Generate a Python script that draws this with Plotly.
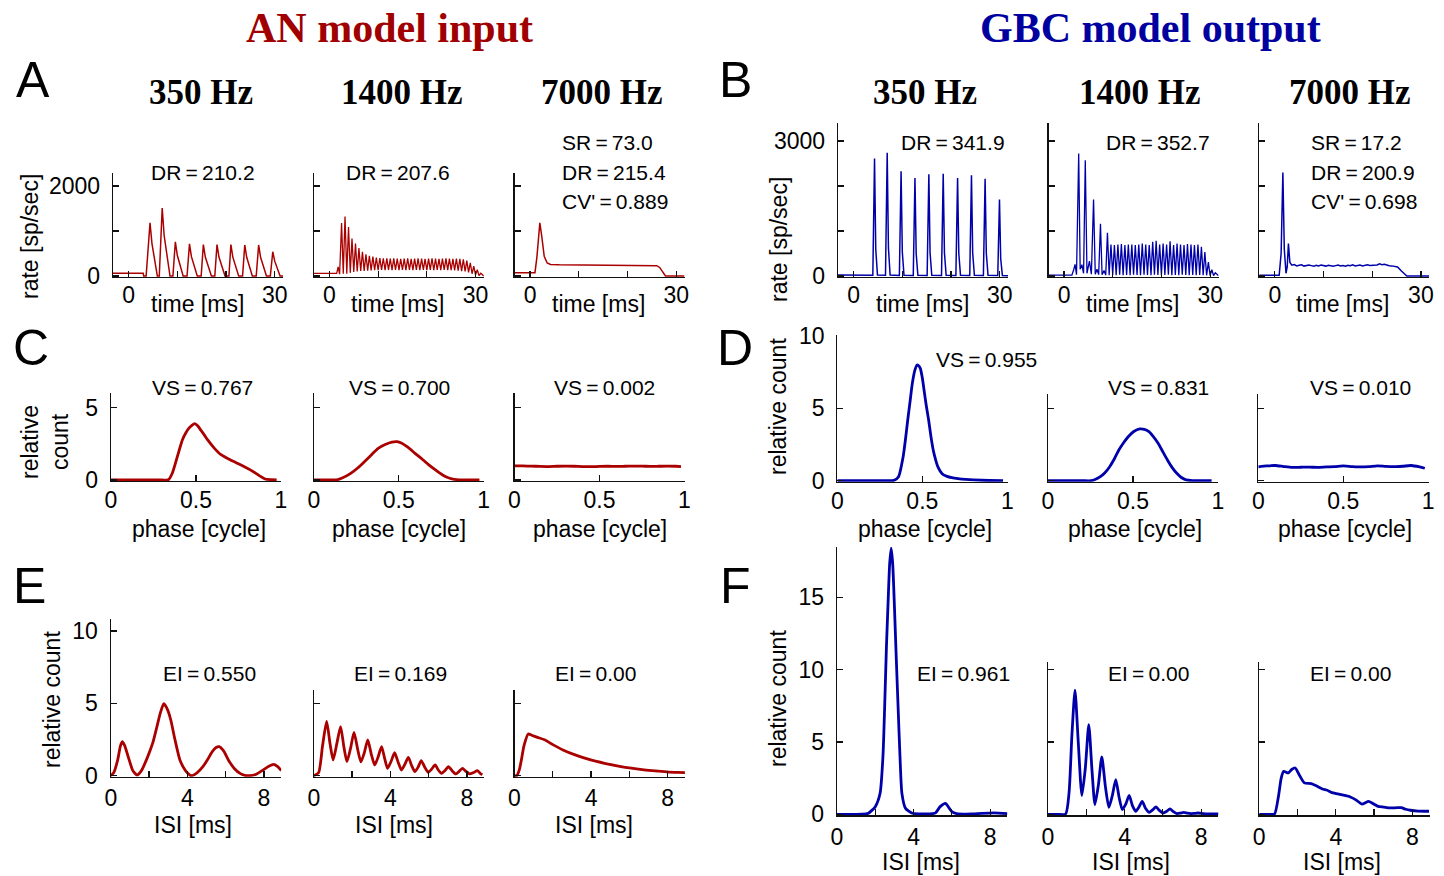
import plotly.graph_objects as go

W, H = 1444, 876
RED = "#aa0000"
BLUE = "#0000aa"
SANS = "Liberation Sans, Arial, Helvetica, sans-serif"
SERIF = "Liberation Serif, Times New Roman, serif"

# ---------------- data ----------------
# A: AN PSTH (time ms, rate sp/s)
A1_t = [-3.2, 3.0, 3.1, 3.6, 4.4, 4.8, 5.9, 6.3, 6.9, 7.3, 8.5, 9.1, 9.6, 10.0, 11.2, 12.0, 12.5, 12.9,
        14.1, 14.9, 15.35, 15.75, 17.0, 17.7, 18.15, 18.55, 19.8, 20.6, 21.0, 21.4, 22.6, 23.4, 23.85,
        24.25, 25.4, 26.2, 26.7, 27.1, 28.3, 29.1, 29.6, 30.0, 31.1, 31.7]
A1_v = [60, 60, 0, 0, 1180, 720, 0, 0, 1510, 900, 0, 0, 760, 460, 0, 0, 715, 430, 0, 0, 700, 420, 0, 0,
        700, 420, 0, 0, 700, 420, 0, 0, 690, 415, 0, 0, 690, 415, 0, 0, 540, 330, 0, 0]

A2_pre_t = [-3.2, 1.5, 1.8, 2.1]
A2_pre_v = [60, 60, 200, 40]
A2_peak_t = [2.5, 3.21, 3.93, 4.64, 5.36, 6.07, 6.79, 7.5, 8.21, 8.93, 9.64, 10.36, 11.07, 11.79, 12.5,
             13.21, 13.93, 14.64, 15.36, 16.07, 16.79, 17.5, 18.21, 18.93, 19.64, 20.36, 21.07, 21.79,
             22.5, 23.21, 23.93, 24.64, 25.36, 26.07, 26.79, 27.5, 28.21, 28.93, 29.64, 30.36, 31.07]
A2_peak_v = [1180, 1320, 1090, 830, 720, 620, 540, 480, 450, 430, 410, 400, 395, 390, 385, 390, 385, 380,
             385, 390, 380, 385, 390, 385, 380, 385, 390, 385, 380, 385, 390, 385, 380, 385, 380, 370,
             340, 290, 220, 140, 60]
A2_trough_t = [2.85, 3.57, 4.29, 5.0, 5.71, 6.43, 7.14, 7.86, 8.57, 9.29, 10.0, 10.71, 11.43, 12.14,
               12.86, 13.57, 14.29, 15.0, 15.71, 16.43, 17.14, 17.86, 18.57, 19.29, 20.0, 20.71, 21.43,
               22.14, 22.86, 23.57, 24.29, 25.0, 25.71, 26.43, 27.14, 27.86, 28.57, 29.29, 30.0, 30.71, 31.7]
A2_trough_v = [50, 50, 70, 90, 100, 110, 115, 120, 125, 130, 130, 135, 130, 135, 130, 135, 130, 135, 130,
               135, 130, 135, 130, 135, 130, 135, 130, 135, 130, 135, 130, 130, 125, 120, 110, 100, 80,
               50, 25, 10, 0]

A3_t = [-3.2, 1.0, 1.4, 2.0, 2.4, 2.9, 3.5, 4.2, 6.0, 8.0, 10.0, 12.0, 14.0, 16.0, 18.0, 20.0, 22.0,
        24.0, 26.0, 26.6, 27.2, 27.8, 31.7]
A3_v = [73, 73, 420, 1180, 880, 440, 290, 255, 248, 245, 242, 240, 240, 238, 236, 236, 234, 232, 230,
        190, 80, 0, 0]

# B: GBC PSTH
B1_t = [-3.2, 3.95, 4.3, 4.55, 4.9, 6.55, 6.9, 7.15, 7.5, 9.4, 9.75, 10.0, 10.35, 12.25, 12.6, 12.85,
        13.2, 15.1, 15.45, 15.7, 16.05, 18.05, 18.4, 18.65, 19.0, 21.0, 21.35, 21.6, 21.95, 23.85, 24.2,
        24.45, 24.8, 26.65, 27.0, 27.25, 27.6, 29.6, 29.95, 30.2, 30.55, 31.7]
B1_v = [20, 15, 2610, 600, 20, 15, 2740, 630, 20, 10, 2330, 540, 15, 10, 2180, 500, 15, 10, 2260, 520, 15,
        10, 2270, 520, 15, 10, 2180, 500, 15, 10, 2240, 510, 15, 10, 2160, 500, 15, 10, 1700, 390, 10, 5]

B2_pre_t = [-3.2, 1.6, 2.0, 2.25, 2.55, 3.0, 3.3, 3.65, 4.0, 4.35, 4.7, 5.2, 5.6, 6.05, 6.4, 6.75, 7.1,
            7.47, 7.8, 8.2, 8.55, 8.9, 9.25]
B2_pre_v = [20, 20, 150, 260, 30, 2720, 150, 250, 60, 2570, 60, 330, 40, 1700, 40, 150, 30, 1160, 30,
            120, 20, 960, 20]
B2_peak_t = [9.62, 10.33, 11.05, 11.76, 12.48, 13.19, 13.9, 14.62, 15.33, 16.05, 16.76, 17.48, 18.19,
             18.9, 19.62, 20.33, 21.05, 21.76, 22.48, 23.19, 23.9, 24.62, 25.33, 26.05, 26.76, 27.48,
             28.19, 28.9, 29.62, 30.33, 31.05]
B2_peak_v = [700, 690, 700, 710, 690, 700, 700, 690, 700, 720, 700, 690, 760, 780, 700, 720, 700, 770,
             690, 720, 700, 690, 710, 700, 690, 700, 650, 530, 310, 140, 70]
B2_trough_t = [9.98, 10.69, 11.41, 12.12, 12.84, 13.55, 14.26, 14.98, 15.69, 16.41, 17.12, 17.84, 18.55,
               19.26, 19.98, 20.69, 21.41, 22.12, 22.84, 23.55, 24.26, 24.98, 25.69, 26.41, 27.12, 27.84,
               28.55, 29.26, 29.98, 30.69, 31.7]
B2_trough_v = [25, 20, 30, 20, 25, 20, 30, 25, 20, 30, 25, 20, 30, 25, 20, 25, 30, 20, 25, 20, 30, 25,
               20, 25, 20, 25, 20, 15, 10, 10, 5]

B3_t = [-3.2, 0.9, 1.3, 1.66, 1.95, 2.3, 2.55, 2.8, 3.1, 3.5, 4.0, 4.5, 5.0, 5.5, 6.0, 6.5, 7.0, 7.5, 8.0,
        8.5, 9.0, 9.5, 10.0, 10.5, 11.0, 11.5, 12.0, 12.5, 13.0, 13.5, 14.0, 14.5, 15.0, 15.5, 16.0, 16.5,
        17.0, 17.5, 18.0, 18.5, 19.0, 19.5, 20.0, 20.5, 21.0, 21.5, 22.0, 22.5, 23.0, 23.5, 24.0, 24.5,
        25.2, 26.0, 26.6, 27.1, 31.7]
B3_v = [17, 17, 500, 2300, 600, 60, 200, 720, 300, 240, 255, 225, 240, 250, 220, 235, 245, 230, 215, 240,
        225, 245, 230, 220, 240, 235, 215, 230, 245, 225, 235, 220, 240, 230, 250, 225, 235, 245, 225, 230,
        250, 235, 240, 255, 245, 270, 250, 260, 240, 230, 225, 215, 200, 110, 40, 0, 0]

# C: AN period histograms (phase, relative count)
C1_x = [0, 0.1, 0.2, 0.3, 0.338, 0.36, 0.379, 0.40, 0.42, 0.44, 0.46, 0.478, 0.493, 0.51, 0.528, 0.55,
        0.569, 0.609, 0.65, 0.704, 0.75, 0.785, 0.82, 0.853, 0.88, 0.907, 0.94, 0.975]
C1_y = [0.0, 0.0, 0.0, 0.0, 0.02, 0.45, 1.15, 2.0, 2.77, 3.25, 3.6, 3.8, 3.9, 3.75, 3.46, 3.1, 2.77, 2.19,
        1.73, 1.38, 1.12, 0.92, 0.7, 0.46, 0.25, 0.07, 0.02, 0.0]
C2_x = [0, 0.1, 0.135, 0.17, 0.217, 0.26, 0.298, 0.34, 0.379, 0.42, 0.46, 0.49, 0.515, 0.555, 0.596,
        0.64, 0.677, 0.72, 0.758, 0.8, 0.839, 0.9, 0.975]
C2_y = [0, 0, 0.01, 0.15, 0.46, 0.85, 1.27, 1.75, 2.19, 2.45, 2.62, 2.65, 2.56, 2.25, 1.84, 1.42, 1.04,
        0.66, 0.35, 0.12, 0.02, 0, 0]
C3_x = [0, 0.05, 0.1, 0.15, 0.2, 0.25, 0.3, 0.35, 0.4, 0.45, 0.5, 0.55, 0.6, 0.65, 0.7, 0.75, 0.8, 0.85,
        0.9, 0.95, 0.98]
C3_y = [0.97, 0.98, 0.96, 0.94, 0.93, 0.95, 0.96, 0.95, 0.93, 0.92, 0.94, 0.95, 0.94, 0.95, 0.96, 0.96,
        0.94, 0.95, 0.96, 0.95, 0.93]

# D: GBC period histograms
D1_x = [0, 0.1, 0.2, 0.3, 0.332, 0.36, 0.387, 0.40, 0.414, 0.428, 0.441, 0.455, 0.469, 0.478, 0.488,
        0.50, 0.51, 0.523, 0.537, 0.55, 0.564, 0.578, 0.591, 0.618, 0.645, 0.673, 0.71, 0.755, 0.85, 0.975]
D1_y = [0, 0, 0, 0.0, 0.02, 0.28, 1.66, 2.8, 4.2, 5.5, 6.73, 7.6, 8.0, 7.95, 7.77, 7.1, 6.27, 5.2, 4.2,
        3.1, 2.12, 1.45, 0.97, 0.46, 0.3, 0.21, 0.14, 0.09, 0.03, 0.0]
D2_x = [0, 0.1, 0.2, 0.254, 0.28, 0.308, 0.335, 0.363, 0.39, 0.417, 0.445, 0.472, 0.505, 0.54, 0.567,
        0.594, 0.62, 0.649, 0.676, 0.703, 0.73, 0.758, 0.785, 0.813, 0.85, 0.9, 0.963]
D2_y = [0, 0, 0, 0.0, 0.1, 0.28, 0.55, 0.97, 1.5, 2.12, 2.62, 3.04, 3.4, 3.58, 3.55, 3.39, 3.05, 2.58,
        2.0, 1.43, 0.92, 0.51, 0.22, 0.06, 0.01, 0, 0]
D3_x = [0, 0.05, 0.1, 0.15, 0.2, 0.25, 0.3, 0.35, 0.4, 0.45, 0.5, 0.55, 0.6, 0.65, 0.7, 0.75, 0.8, 0.85,
        0.9, 0.95, 0.98]
D3_y = [0.96, 1.02, 1.05, 0.98, 0.92, 0.93, 0.94, 0.92, 0.95, 0.97, 1.02, 0.98, 0.95, 0.97, 1.03, 0.99,
        0.97, 1.0, 1.05, 0.95, 0.86]

# E: AN ISI histograms (ISI ms, relative count)
E1_x = [0, 0.15, 0.36, 0.5, 0.6, 0.72, 0.96, 1.15, 1.37, 1.6, 1.93, 2.2, 2.41, 2.6, 2.77, 2.95, 3.13,
        3.35, 3.61, 3.9, 4.21, 4.5, 4.81, 5.05, 5.3, 5.5, 5.66, 5.9, 6.14, 6.45, 6.75, 7.0, 7.23, 7.6,
        7.95, 8.25, 8.5, 8.7, 8.91]
E1_y = [0, 0.2, 1.09, 2.05, 2.36, 2.1, 1.09, 0.35, 0.05, 0.35, 1.32, 2.3, 3.4, 4.4, 4.98, 4.6, 3.87, 2.5,
        1.09, 0.35, 0.0, 0.2, 0.63, 1.1, 1.67, 1.95, 2.01, 1.7, 1.09, 0.5, 0.16, 0.03, 0.0, 0.1, 0.39,
        0.65, 0.79, 0.65, 0.35]
E2_x = [0, 0.25, 0.45, 0.67, 0.85, 1.01, 1.2, 1.4, 1.57, 1.73, 1.92, 2.1, 2.28, 2.46, 2.64, 2.82, 3.0,
        3.18, 3.36, 3.54, 3.7, 3.85, 4.04, 4.22, 4.4, 4.58, 4.76, 4.94, 5.11, 5.28, 5.45, 5.61, 5.79,
        5.97, 6.15, 6.34, 6.5, 6.67, 6.85, 7.03, 7.22, 7.42, 7.59, 7.76, 7.95, 8.14, 8.35, 8.55, 8.7, 8.8]
E2_y = [0, 0.2, 2.0, 3.75, 2.2, 1.09, 2.2, 3.4, 2.0, 0.97, 1.9, 3.0, 1.9, 0.95, 1.6, 2.48, 1.5, 0.74,
        1.3, 2.01, 1.2, 0.51, 1.0, 1.6, 0.95, 0.39, 0.8, 1.27, 0.7, 0.28, 0.6, 1.04, 0.6, 0.23, 0.45,
        0.74, 0.4, 0.16, 0.35, 0.63, 0.35, 0.12, 0.3, 0.51, 0.3, 0.12, 0.22, 0.35, 0.15, 0.05]
E3_x = [0, 0.12, 0.25, 0.36, 0.5, 0.72, 0.9, 1.2, 1.57, 2.0, 2.53, 3.2, 3.98, 4.7, 5.42, 6.1, 6.87, 7.5,
        8.07, 8.5, 8.92]
E3_y = [0, 0.0, 0.4, 1.09, 2.1, 2.89, 2.8, 2.65, 2.48, 2.15, 1.78, 1.42, 1.09, 0.86, 0.67, 0.52, 0.39,
        0.31, 0.25, 0.23, 0.21]

# F: GBC ISI histograms
F1_x = [0, 0.5, 1.0, 1.5, 1.64, 2.0, 2.25, 2.4, 2.49, 2.58, 2.66, 2.75, 2.83, 2.91, 3.0, 3.09, 3.19,
        3.29, 3.39, 3.58, 3.94, 4.5, 5.0, 5.15, 5.39, 5.66, 5.85, 6.0, 6.24, 7.0, 8.18, 8.9]
F1_y = [0, 0, 0, 0.03, 0.07, 0.53, 1.45, 4.0, 7.45, 11.5, 14.36, 17.3, 18.4, 17.3, 14.36, 11.0, 7.45,
        4.0, 1.45, 0.41, 0.07, 0.03, 0.05, 0.1, 0.53, 0.76, 0.45, 0.18, 0.05, 0.02, 0.1, 0.05]
F2_x = [0, 0.5, 0.92, 1.1, 1.25, 1.41, 1.58, 1.77, 1.95, 2.13, 2.3, 2.45, 2.63, 2.81, 3.0, 3.18, 3.36,
        3.54, 3.71, 3.88, 4.06, 4.24, 4.41, 4.58, 4.75, 4.92, 5.1, 5.28, 5.46, 5.64, 5.83, 6.01, 6.19,
        6.37, 6.55, 6.73, 6.91, 7.09, 7.28, 7.46, 7.64, 7.82, 8.2, 8.91]
F2_y = [0, 0, 0.02, 1.5, 5.5, 8.58, 5.0, 1.29, 3.2, 6.2, 3.0, 0.67, 2.0, 3.97, 1.9, 0.48, 1.3, 2.4, 1.2,
        0.32, 0.7, 1.31, 0.6, 0.21, 0.5, 0.9, 0.4, 0.14, 0.3, 0.51, 0.25, 0.09, 0.2, 0.37, 0.18, 0.05,
        0.08, 0.14, 0.08, 0.05, 0.06, 0.09, 0.03, 0.02]
F3_x = [0, 0.5, 0.8, 1.0, 1.15, 1.28, 1.52, 1.7, 1.88, 2.1, 2.36, 2.72, 3.0, 3.3, 3.55, 3.8, 4.03, 4.4,
        4.76, 5.05, 5.36, 5.72, 6.0, 6.21, 6.5, 6.82, 7.1, 7.42, 7.65, 7.9, 8.3, 8.87]
F3_y = [0, 0, 0.02, 1.2, 2.5, 2.97, 2.86, 3.1, 3.2, 2.7, 2.17, 2.12, 1.95, 1.75, 1.66, 1.5, 1.43, 1.32,
        1.2, 1.0, 0.71, 0.9, 0.7, 0.55, 0.5, 0.44, 0.45, 0.46, 0.35, 0.28, 0.22, 0.21]

# text
freq_labels = ["350 Hz", "1400 Hz", "7000 Hz"]
A_stats = ["DR=210.2", "DR=207.6", ["SR=73.0", "DR=215.4", "CV'=0.889"]]
B_stats = ["DR=341.9", "DR=352.7", ["SR=17.2", "DR=200.9", "CV'=0.698"]]
C_stats = ["VS=0.767", "VS=0.700", "VS=0.002"]
D_stats = ["VS=0.955", "VS=0.831", "VS=0.010"]
E_stats = ["EI=0.550", "EI=0.169", "EI=0.00"]
F_stats = ["EI=0.961", "EI=0.00", "EI=0.00"]


def merge(*lists):
    pts = []
    for ts, vs in lists:
        pts.extend(zip(ts, vs))
    pts.sort(key=lambda p: p[0])
    return [p[0] for p in pts], [p[1] for p in pts]


A2_t, A2_v = merge((A2_pre_t, A2_pre_v), (A2_peak_t, A2_peak_v), (A2_trough_t, A2_trough_v))
B2_t, B2_v = merge((B2_pre_t, B2_pre_v), (B2_peak_t, B2_peak_v), (B2_trough_t, B2_trough_v))

# ---------------- layout geometry ----------------
def fx(p):
    return p / W


def fy(p):
    return 1 - p / H


fig = go.Figure()
layout = dict(width=W, height=H, margin=dict(l=0, r=0, t=0, b=0, autoexpand=False), paper_bgcolor="white",
              plot_bgcolor="white", showlegend=False)

T = lambda s: s.replace("=", "\u2009=\u2009")

XT_AB = dict(xr=[-3.2, 31.7], xt=[0, 10, 20, 30], xtt=["0", "", "", "30"], so=-3)
XT_CD = dict(xr=[0, 1.003], xt=[0, 0.5, 1], xtt=["0", "0.5", "1"], so=-2)
XT_E = dict(xr=[0, 8.9], xt=[0, 2, 4, 6, 8], xtt=["0", "", "4", "", "8"], so=0)
XT_F = dict(xr=[0, 8.9], xt=[0, 2, 4, 6, 8], xtt=["0", "", "4", "", "8"], so=1)

LW = 2.8
panels = [
    # x data, y data, color, lw, shape, left px, width px, zero px, px per unit, ymin, ymax, x-axis spec, yticks, ytick text
    (A1_t, A1_v, RED, 1.5, "linear", 113, 170, 276, 0.045, -25, 2290, XT_AB, [0, 1000, 2000], ["0", "", "2000"]),
    (A2_t, A2_v, RED, 1.3, "linear", 313.8, 170, 276, 0.045, -25, 2290, XT_AB, [0, 1000, 2000], ["", "", ""]),
    (A3_t, A3_v, RED, 1.5, "linear", 514.5, 170, 276, 0.045, -25, 2290, XT_AB, [0, 1000, 2000], ["", "", ""]),
    (B1_t, B1_v, BLUE, 1.5, "linear", 838, 170, 276, 0.045, -25, 3400, XT_AB, [0, 1000, 2000, 3000], ["0", "", "", "3000"]),
    (B2_t, B2_v, BLUE, 1.3, "linear", 1048.5, 170, 276, 0.045, -25, 3400, XT_AB, [0, 1000, 2000, 3000], ["", "", "", ""]),
    (B3_t, B3_v, BLUE, 1.5, "linear", 1259.2, 170, 276, 0.045, -25, 3400, XT_AB, [0, 1000, 2000, 3000], ["", "", "", ""]),
    (C1_x, C1_y, RED, LW, "spline", 111, 170.4, 480, 14.46, -0.08, 6.0, XT_CD, [0, 5], ["0", "5"]),
    (C2_x, C2_y, RED, LW, "spline", 313.8, 170.4, 480, 14.46, -0.08, 6.0, XT_CD, [0, 5], ["", ""]),
    (C3_x, C3_y, RED, LW, "spline", 514.5, 170.4, 480, 14.46, -0.08, 6.0, XT_CD, [0, 5], ["", ""]),
    (D1_x, D1_y, BLUE, LW, "spline", 837.4, 170.4, 480.7, 14.46, -0.08, 10.05, XT_CD, [0, 5, 10], ["0", "5", "10"]),
    (D2_x, D2_y, BLUE, LW, "spline", 1048, 170.4, 480.7, 14.46, -0.08, 6.0, XT_CD, [0, 5], ["", ""]),
    (D3_x, D3_y, BLUE, LW, "spline", 1258.3, 170.4, 480.7, 14.46, -0.08, 6.0, XT_CD, [0, 5], ["", ""]),
    (E1_x, E1_y, RED, LW, "spline", 110.8, 170.4, 775.7, 14.46, -0.08, 10.85, XT_E, [0, 5, 10], ["0", "5", "10"]),
    (E2_x, E2_y, RED, LW, "spline", 313.8, 170.4, 775.7, 14.46, -0.08, 5.9, XT_E, [0, 5], ["", ""]),
    (E3_x, E3_y, RED, LW, "spline", 514.5, 170.4, 775.7, 14.46, -0.08, 5.9, XT_E, [0, 5], ["", ""]),
    (F1_x, F1_y, BLUE, LW, "spline", 837, 170.4, 814.3, 14.46, -0.08, 18.5, XT_F, [0, 5, 10, 15], ["0", "5", "10", "15"]),
    (F2_x, F2_y, BLUE, LW, "spline", 1048, 170.4, 814.3, 14.46, -0.08, 10.55, XT_F, [0, 5, 10], ["", "", ""]),
    (F3_x, F3_y, BLUE, LW, "spline", 1259.2, 170.4, 814.3, 14.46, -0.08, 10.55, XT_F, [0, 5, 10], ["", "", ""]),
]

tickfont = dict(family=SANS, size=23, color="black")
for i, (xs, ys, col, lw, shape, left, wpx, zero, ppu, ymin, ymax, xs_spec, yt, ytt) in enumerate(panels, start=1):
    sfx = "" if i == 1 else str(i)
    bottom_px = zero - ymin * ppu
    top_px = zero - ymax * ppu
    fig.add_trace(go.Scatter(x=xs, y=ys, mode="lines", xaxis="x" + sfx, yaxis="y" + sfx,
                             line=dict(color=col, width=lw, shape=shape, smoothing=0.6 if shape == "spline" else None),
                             hoverinfo="skip"))
    layout["xaxis" + sfx] = dict(domain=[fx(left), fx(left + wpx)], range=xs_spec["xr"], anchor="y" + sfx,
                                  automargin=False,
                                  showline=True, linecolor="#111", linewidth=1.3, mirror=False,
                                  ticks="inside", ticklen=6, tickwidth=1.2, tickcolor="#111",
                                  tickmode="array", tickvals=xs_spec["xt"], ticktext=xs_spec["xtt"],
                                  showgrid=False, zeroline=False, tickfont=tickfont,
                                  ticklabelstandoff=xs_spec["so"], fixedrange=True)
    layout["yaxis" + sfx] = dict(domain=[fy(bottom_px), fy(top_px)], range=[ymin, ymax], anchor="x" + sfx,
                                  automargin=False,
                                  showline=True, linecolor="#111", linewidth=1.3,
                                  ticks="inside", ticklen=6, tickwidth=1.2, tickcolor="#111",
                                  tickmode="array", tickvals=yt, ticktext=ytt, showgrid=False,
                                  zeroline=False, tickfont=tickfont, ticklabelstandoff=7, fixedrange=True)

ann = []


def add_text(text, xp, yp, size=21, family=SANS, color="black", xanchor="center", angle=0):
    ann.append(dict(text=text, x=fx(xp), y=fy(yp), xref="paper", yref="paper", showarrow=False,
                    xanchor=xanchor, yanchor="middle", textangle=angle,
                    font=dict(family=family, size=size, color=color)))


# main titles
add_text("<b>AN model input</b>", 390, 28, size=42, family=SERIF, color="#a00000")
add_text("<b>GBC model output</b>", 1150, 28, size=42, family=SERIF, color="#0000a0")
# panel letters
for letter, xp, yp in [("A", 33, 80), ("B", 735, 80), ("C", 31, 348), ("D", 735, 348), ("E", 29, 586), ("F", 735, 586)]:
    add_text(letter, xp, yp, size=50)
# frequency headers
for lab, xp in zip(freq_labels + freq_labels, [201, 402, 602, 925, 1140, 1350]):
    add_text("<b>" + lab + "</b>", xp, 92, size=35, family=SERIF)

# stats
add_text(T(A_stats[0]), 203, 173)
add_text(T(A_stats[1]), 398, 173)
for s, yp in zip(A_stats[2], [143, 173, 201]):
    add_text(T(s), 560, yp, xanchor="left")
add_text(T(B_stats[0]), 953, 143)
add_text(T(B_stats[1]), 1158, 143)
for s, yp in zip(B_stats[2], [143, 173, 201]):
    add_text(T(s), 1309, yp, xanchor="left")
for s, xp in zip(C_stats, [203, 399, 604]):
    add_text(T(s), xp, 387)
for s, xp, yp in zip(D_stats, [986, 1158, 1360], [359, 387, 387]):
    add_text(T(s), xp, yp)
for s, xp in zip(E_stats, [209, 400, 595]):
    add_text(T(s), xp, 673)
for s, xp in zip(F_stats, [963, 1148, 1350]):
    add_text(T(s), xp, 673)

# axis titles
for xp in [197, 397, 598, 922, 1132, 1342]:
    add_text("time [ms]", xp, 304, size=23)
for xp in [199, 399, 600, 925, 1135, 1345]:
    add_text("phase [cycle]", xp, 529, size=23)
for xp in [193, 394, 594]:
    add_text("ISI [ms]", xp, 825, size=23)
for xp in [921, 1131, 1342]:
    add_text("ISI [ms]", xp, 862, size=23)
add_text("rate [sp/sec]", 30, 237, size=23, angle=-90)
add_text("rate [sp/sec]", 779, 240, size=23, angle=-90)
add_text("relative<br>count", 45, 442, size=23, angle=-90)
add_text("relative count", 778, 407, size=23, angle=-90)
add_text("relative count", 52, 700, size=23, angle=-90)
add_text("relative count", 778, 699, size=23, angle=-90)

layout["annotations"] = ann
fig.update_layout(**layout)
fig.write_html("out.html", config={"displayModeBar": False, "staticPlot": True},
               post_script="document.body.style.margin='0';document.body.style.padding='0';"
                           "document.body.style.overflow='hidden';")
